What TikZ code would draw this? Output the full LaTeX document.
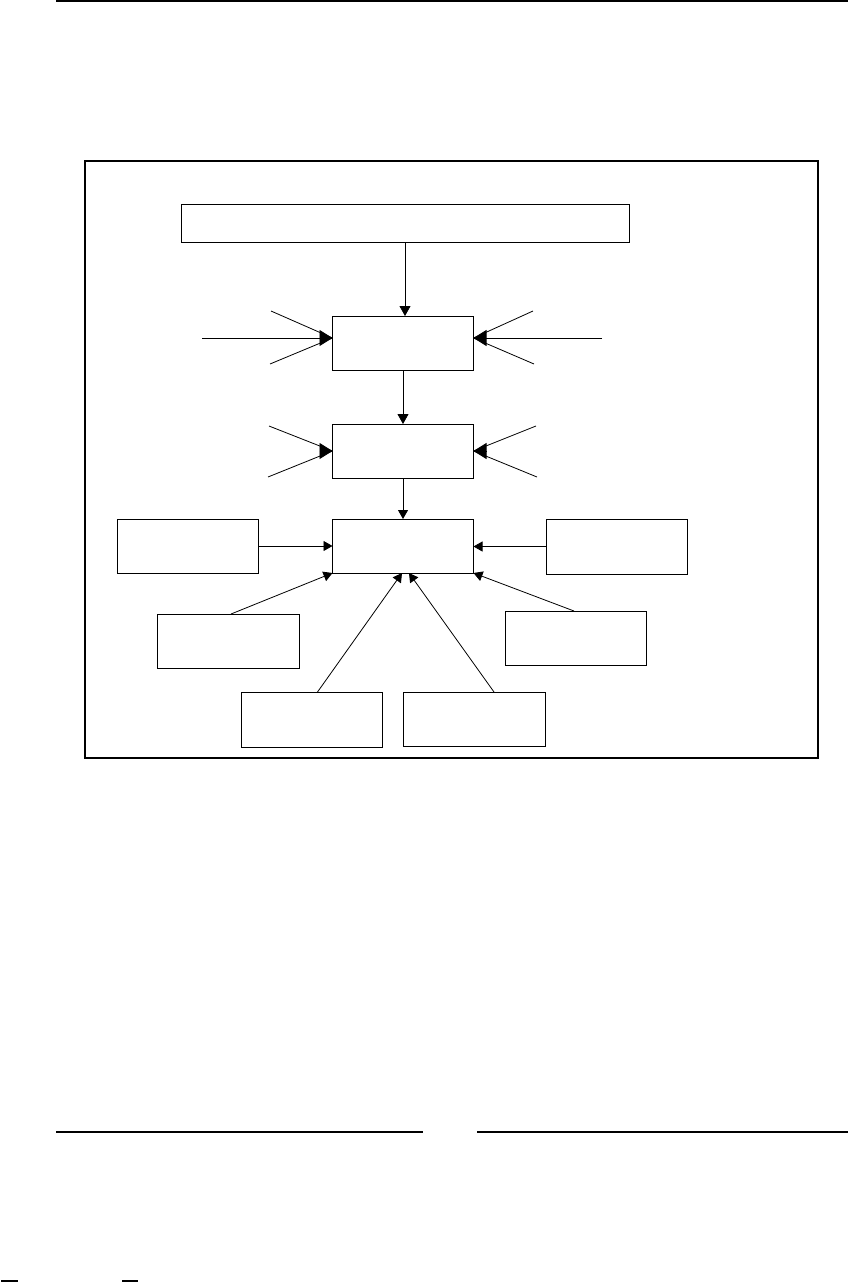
\documentclass[tikz,border=0pt]{standalone}
\usetikzlibrary{arrows.meta}
\begin{document}
\begin{tikzpicture}[x=1pt,y=-1pt,
  box/.style={draw,line width=1pt,inner sep=0pt,outer sep=0pt,minimum width=141pt,minimum height=54pt},
  rule/.style={line width=1.3pt},
  plain/.style={line width=0.8pt},
  bigarr/.style={line width=0.8pt,-{Triangle[length=13pt,width=16pt]}},
  midarr/.style={line width=0.8pt,-{Triangle[length=10pt,width=11pt]}},
  smallarr/.style={line width=0.8pt,-{Triangle[length=9pt,width=10pt]}}]
\useasboundingbox (0,0) rectangle (848,1282);
% page rules
\coordinate (t1) at (56,1); \coordinate (t2) at (848,1);
\draw[rule] (t1) -- (t2);
\coordinate (bl1) at (56,1132); \coordinate (bl2) at (423,1132);
\coordinate (br1) at (477,1132); \coordinate (br2) at (848,1132);
\draw[rule] (bl1) -- (bl2);
\draw[rule] (br1) -- (br2);
\fill (1,1279.5) rectangle (18,1282);
\fill (122,1279.5) rectangle (138,1282);
% frame
\node[draw,line width=1.2pt,inner sep=0pt,minimum width=733pt,minimum height=597pt] (frame) at (451.5,459.5) {};
% boxes
\node[box,minimum width=448pt,minimum height=38pt] (top) at (405,223) {};
\node[box] (b2) at (403,343) {};
\node[box] (b3) at (403,451) {};
\node[box] (b4) at (403,546) {};
\node[box] (l1) at (187.5,546) {};
\node[box,minimum height=55pt] (r1) at (617,546.5) {};
\node[box,minimum width=142pt] (l2) at (228.5,641) {};
\node[box] (r2) at (576,638) {};
\node[box,minimum height=55pt] (bb1) at (311.5,719.5) {};
\node[box,minimum width=142pt] (bb2) at (474.5,719) {};
% vertical arrows
\draw[midarr] (top.south) -- (top.south |- b2.north);
\draw[midarr] (b2.south) -- (b3.north);
\draw[smallarr] (b3.south) -- (b4.north);
% box 2 side arrows
\coordinate (a1) at (202,338); \coordinate (a2) at (271,311); \coordinate (a3) at (270,364);
\coordinate (a4) at (602,338); \coordinate (a5) at (533,311); \coordinate (a6) at (534,364);
\draw[bigarr] (a1) -- ([yshift=5pt]b2.west);
\draw[plain] (a2) -- ([yshift=5pt]b2.west);
\draw[plain] (a3) -- ([yshift=5pt]b2.west);
\draw[bigarr] (a4) -- ([yshift=5pt]b2.east);
\draw[plain] (a5) -- ([yshift=5pt]b2.east);
\draw[plain] (a6) -- ([yshift=5pt]b2.east);
% box 3 side arrows
\coordinate (c1) at (269,426); \coordinate (c2) at (268,477);
\coordinate (c3) at (536,426); \coordinate (c4) at (537,477);
\draw[plain] (c1) -- (b3.west);
\draw[plain] (c2) -- (b3.west);
\draw[bigarr] ([xshift=-13pt]b3.west) -- (b3.west);
\draw[plain] (c3) -- (b3.east);
\draw[plain] (c4) -- (b3.east);
\draw[bigarr] ([xshift=13pt]b3.east) -- (b3.east);
% arrows into box 4
\draw[smallarr] (l1.east) -- (l1.east -| b4.west);
\draw[smallarr] (r1.west) -- (r1.west -| b4.east);
\draw[smallarr] ([xshift=2.5pt]l2.north) -- (b4.south west);
\draw[smallarr] ([xshift=-2pt]r2.north) -- (b4.south east);
\draw[smallarr] ([xshift=6pt]bb1.north) -- ([xshift=-1pt]b4.south);
\draw[smallarr] ([xshift=19.5pt]bb2.north) -- ([xshift=6pt]b4.south);
\end{tikzpicture}
\end{document}
